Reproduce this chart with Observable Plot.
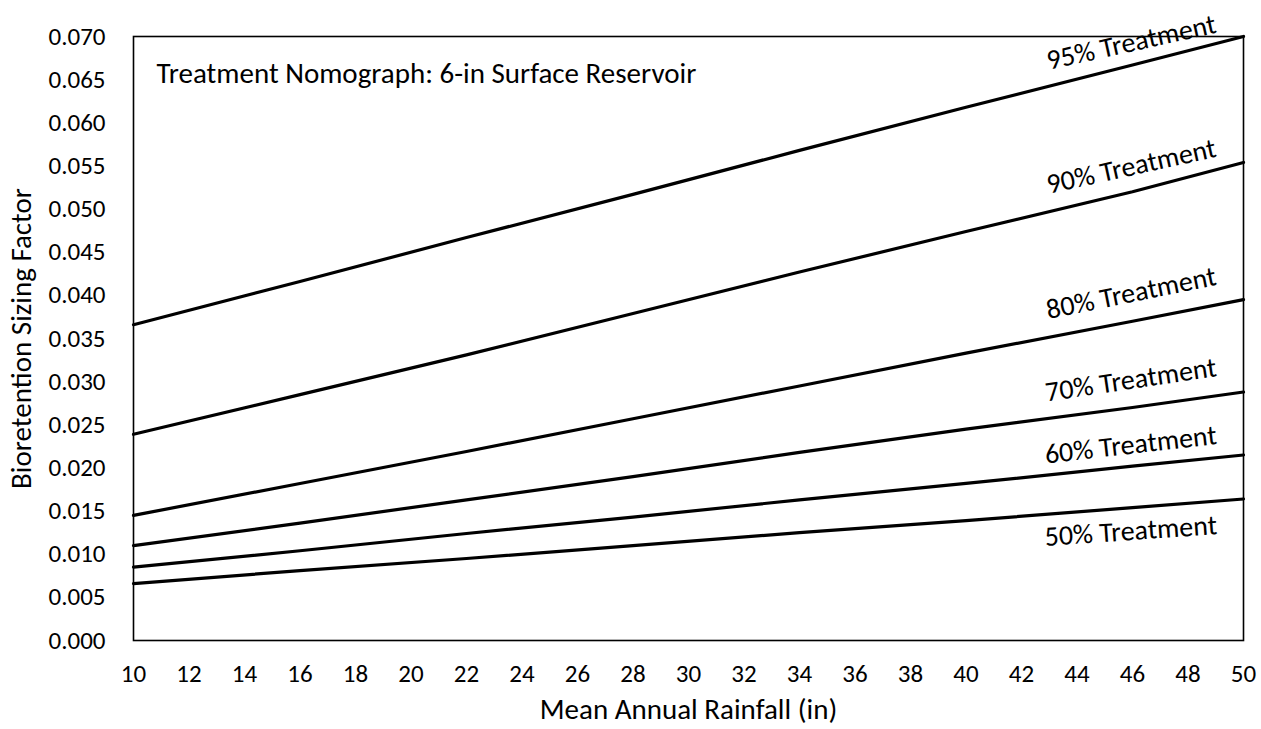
<!DOCTYPE html>
<html>
<head>
<meta charset="utf-8">
<script src="https://cdn.jsdelivr.net/npm/d3@7"></script>
<script src="https://cdn.jsdelivr.net/npm/@observablehq/plot@0.6"></script>
<style>
  html, body { margin: 0; padding: 0; background: #fff; }
  #chart svg { display: block; }
</style>
</head>
<body>
<div id="chart"></div>
<script>
// ---- data ----
const rainfall = [10, 16, 22, 28, 34, 40, 46, 50];
const seriesNames = ["95% Treatment", "90% Treatment", "80% Treatment", "70% Treatment", "60% Treatment", "50% Treatment"];
const t95 = [0.0366, 0.0416, 0.0467, 0.0517, 0.0568, 0.0618, 0.0667, 0.0700];
const t90 = [0.0239, 0.0285, 0.0331, 0.0379, 0.0427, 0.0474, 0.0520, 0.0554];
const t80 = [0.0145, 0.0182, 0.0219, 0.0257, 0.0295, 0.0333, 0.0370, 0.0395];
const t70 = [0.0110, 0.0136, 0.0163, 0.0190, 0.0218, 0.0245, 0.0270, 0.0288];
const t60 = [0.0085, 0.0104, 0.0124, 0.0143, 0.0163, 0.0182, 0.0202, 0.0215];
const t50 = [0.0066, 0.0081, 0.0095, 0.0110, 0.0125, 0.0139, 0.0154, 0.0164];
const xTicks = [10,12,14,16,18,20,22,24,26,28,30,32,34,36,38,40,42,44,46,48,50];
const yTicks = [0,0.005,0.010,0.015,0.020,0.025,0.030,0.035,0.040,0.045,0.050,0.055,0.060,0.065,0.070];
const chartTitle = "Treatment Nomograph: 6-in Surface Reservoir";
const xLabel = "Mean Annual Rainfall (in)";
const yLabel = "Bioretention Sizing Factor";

// ---- label styling (not data) ----
const labelStyle = {
  "95% Treatment": {rotate: -12.5, dy: -4},
  "90% Treatment": {rotate: -12.5, dy: -6},
  "80% Treatment": {rotate: -11.5, dy: -15},
  "70% Treatment": {rotate: -8.5, dy: -16},
  "60% Treatment": {rotate: -6.5, dy: -11},
  "50% Treatment": {rotate: -4, dy: 35}
};

const allSeries = [t95, t90, t80, t70, t60, t50];
const rows = [];
allSeries.forEach((vals, i) => {
  vals.forEach((v, j) => rows.push({series: seriesNames[i], x: rainfall[j], y: v}));
});
const ends = allSeries.map((vals, i) => ({series: seriesNames[i], x: rainfall[rainfall.length - 1], y: vals[vals.length - 1]}));

const font = "Carlito, Calibri, Lato, sans-serif";
const labelSize = 28;
const marks = [
  Plot.axisX({ticks: xTicks, tickSize: 0, tickPadding: 24, label: null, fontSize: 25, tickFormat: d => String(d)}),
  Plot.axisY({ticks: yTicks, tickSize: 0, tickPadding: 28, label: null, fontSize: 25, tickFormat: d3.format(".3f")}),
  Plot.line(rows, {x: "x", y: "y", z: "series", stroke: "black", strokeWidth: 3.2}),
  Plot.frame({stroke: "black", strokeWidth: 1.6}),
  Plot.text([chartTitle], {frameAnchor: "top-left", dx: 23, dy: 37, textAnchor: "start", lineAnchor: "middle", fontSize: 29, fill: "black"}),
  Plot.text([xLabel], {frameAnchor: "bottom", dy: 69, textAnchor: "middle", lineAnchor: "middle", fontSize: 29, fill: "black"}),
  Plot.text([yLabel], {frameAnchor: "left", dx: -112, rotate: -90, textAnchor: "middle", lineAnchor: "middle", fontSize: 29, fill: "black"})
];
ends.forEach(e => {
  const s = labelStyle[e.series];
  marks.push(Plot.text([e], {x: "x", y: "y", text: "series", textAnchor: "end", lineAnchor: "bottom", dx: -26, dy: s.dy, rotate: s.rotate, fontSize: labelSize, fill: "black"}));
});

const chart = Plot.plot({
  width: 1261,
  height: 729,
  marginLeft: 133,
  marginRight: 18,
  marginTop: 36,
  marginBottom: 89,
  style: {fontFamily: font, fontSize: "25px", color: "black", background: "white"},
  x: {domain: [10, 50]},
  y: {domain: [0, 0.070]},
  marks
});
document.getElementById("chart").appendChild(chart);
</script>
</body>
</html>
